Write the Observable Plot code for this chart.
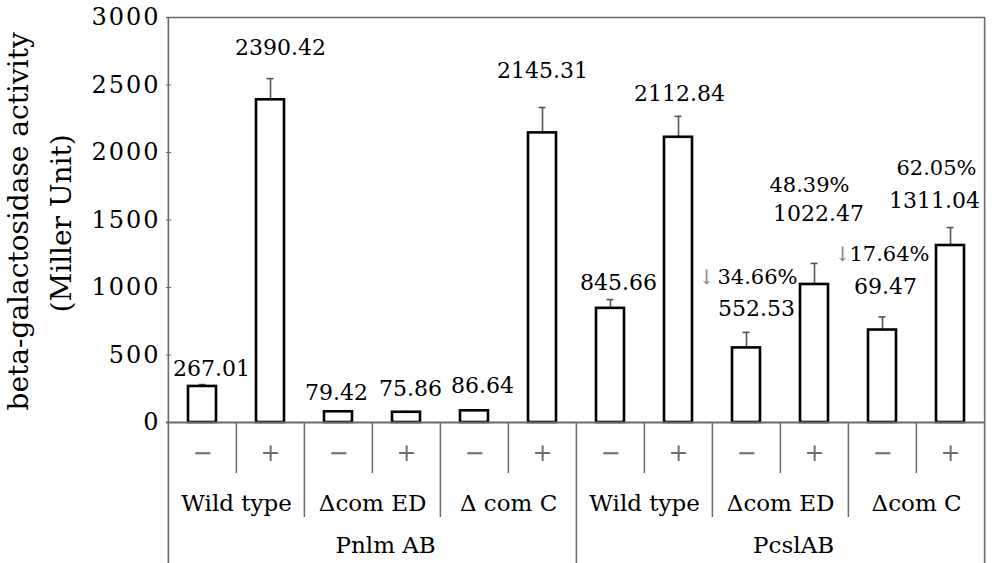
<!DOCTYPE html>
<html><head><meta charset="utf-8">
<script src="https://cdn.jsdelivr.net/npm/d3@7"></script>
<script src="https://cdn.jsdelivr.net/npm/@observablehq/plot@0.6"></script>
<style>
body{margin:0;background:#fff}
#chart svg{display:block}
#chart g[aria-label="y-axis tick label"] text{letter-spacing:2px}
</style></head><body><div id="chart"></div>
<script>
// ---- data ----
const promoters = ["Pnlm AB", "PcslAB"];
const strains = ["Wild type", "\u0394com ED", "\u0394 com C", "Wild type", "\u0394com ED", "\u0394com C"];
const treatments = ["\u2212", "+"];
const values = [267.01, 2390.42, 79.42, 75.86, 86.64, 2145.31, 845.66, 2112.84, 552.53, 1022.47, 685, 1311.04];
const errors = [14, 157, 6, 5, 2, 188, 65, 155, 115, 156, 97, 133];
const valueLabels = ["267.01", "2390.42", "79.42", "75.86", "86.64", "2145.31", "845.66", "2112.84", "552.53", "1022.47", "69.47", "1311.04"];
const percentLabels = [null, null, null, null, null, null, null, null, "34.66%", "48.39%", "17.64%", "62.05%"];
const percentDown = [false, false, false, false, false, false, false, false, true, false, true, false];
const yTicks = [0, 500, 1000, 1500, 2000, 2500, 3000];

// ---- annotation placement (label centres in y units, horizontal nudges in px) ----
const valueLabelAt = [400, 2778, 222, 252, 274, 2607, 1030, 2437, 844, 1548, 1007, 1644];
const valueLabelNudge = [9, 10, -2, 4, 8, 0, 8, 1, 10, 4, 3, -16];
const percentLabelAt = [null, null, null, null, null, null, null, null, 1074, 1756, 1244, 1881];
const percentLabelNudge = [0, 0, 0, 0, 0, 0, 0, 0, 11, -5, 7, -14];

// ---- layout ----
const W = 1000, H = 563, ML = 166, MR = 15, MT = 17;
const zeroPx = 422;
const pxPerUnit = (zeroPx - MT) / 3000;
const Y = px => (zeroPx - px) / pxPerUnit; // pixel row -> y units (for the table under the axis)
const yMin = Y(H);
const step = (W - ML - MR) / 12;
const font = "DejaVu Serif";

const ids = d3.range(12).map(String);
const data = ids.map((id, i) => ({
  id, i,
  value: values[i], err: errors[i], top: values[i] + errors[i],
  treat: treatments[i % 2],
  label: valueLabels[i], labelY: valueLabelAt[i], labelDx: valueLabelNudge[i],
  pct: percentLabels[i], pctY: percentLabelAt[i], pctDx: percentLabelNudge[i], down: percentDown[i]
}));
const strainData = strains.map((s, k) => ({id: String(k * 2), s}));
const promoterData = promoters.map((p, k) => ({id: String(k * 6 + 2), p}));

// table vertical lines
const lineGray = "#6a6a6a";
const minorLines = data.filter(d => d.i % 2 === 1);
const majorLines = data.filter(d => d.i % 2 === 0 && d.i !== 0 && d.i !== 6);
const pctData = data.filter(d => d.pct);
const arrowData = data.filter(d => d.down);

const chart = Plot.plot({
  width: W, height: H,
  marginLeft: ML, marginRight: MR, marginTop: MT, marginBottom: 0,
  style: {fontFamily: font, background: "white", color: "black"},
  x: {type: "band", domain: ids, paddingInner: 0.59, paddingOuter: 0.295, axis: null},
  y: {domain: [yMin, 3000], axis: null},
  marks: [
    // frame / table lines
    Plot.ruleY([3000], {stroke: lineGray, strokeWidth: 1.6}),
    Plot.ruleX(minorLines, {x: "id", dx: -step / 2, y1: 0, y2: Y(473), stroke: lineGray, strokeWidth: 1.5}),
    Plot.ruleX(majorLines, {x: "id", dx: -step / 2, y1: 0, y2: Y(517), stroke: lineGray, strokeWidth: 1.5}),
    Plot.ruleX([data[6]], {x: "id", dx: -step / 2, y1: 0, y2: yMin, stroke: lineGray, strokeWidth: 1.5}),
    Plot.ruleX([data[0]], {x: "id", dx: -step / 2, y1: 3000, y2: yMin, stroke: lineGray, strokeWidth: 1.6}),
    Plot.ruleX([data[11]], {x: "id", dx: step / 2, y1: 3000, y2: yMin, stroke: lineGray, strokeWidth: 1.6}),
    // y axis
    Plot.axisY({ticks: yTicks, tickSize: -5, tickPadding: 11, fontSize: 24, tickFormat: d => String(d), stroke: lineGray, label: null, fill: "black"}),
    // error bars
    Plot.ruleX(data, {x: "id", y1: "value", y2: "top", stroke: "#555", strokeWidth: 1.6}),
    Plot.tickY(data, {x: "id", y: "top", stroke: "#555", strokeWidth: 1.6, inset: 10.5}),
    // bars
    Plot.barY(data, {x: "id", y: "value", fill: "white", stroke: "black", strokeWidth: 2.6}),
    Plot.ruleY([0], {stroke: lineGray, strokeWidth: 1.8}),
    // value labels
    ...data.map(d => Plot.text([d], {x: "id", y: "labelY", dx: d.labelDx, text: "label", fontSize: 22, lineAnchor: "middle", fill: "black"})),
    ...pctData.map(d => Plot.text([d], {x: "id", y: "pctY", text: "pct", dx: d.pctDx, fontSize: 21, lineAnchor: "middle", fill: "black"})),
    Plot.text(arrowData, {x: "id", y: "pctY", text: () => "\u2193", dx: -40, fontSize: 20, lineAnchor: "middle", fill: "#888"}),
    // table text
    Plot.text(data, {x: "id", y: Y(453), text: "treat", fontSize: 24, lineAnchor: "middle", fill: "#6e6e6e"}),
    Plot.text(strainData, {x: "id", dx: step / 2, y: Y(503), text: "s", fontSize: 23, lineAnchor: "middle", fill: "black"}),
    Plot.text(promoterData, {x: "id", dx: step / 2 + 13, y: Y(545), text: "p", fontSize: 23, lineAnchor: "middle", fill: "black"}),
    // y-axis title
    Plot.text([{t: "beta-galactosidase activity", y: 1490}], {text: "t", y: "y", frameAnchor: "left", textAnchor: "middle", dx: 19 - ML, rotate: -90, fontSize: 28, lineAnchor: "middle", fill: "black"}),
    Plot.text([{t: "(Miller Unit)", y: 1475}], {text: "t", y: "y", frameAnchor: "left", textAnchor: "middle", dx: 62 - ML, rotate: -90, fontSize: 28, lineAnchor: "middle", fill: "black"})
  ]
});
document.getElementById("chart").appendChild(chart);
</script>
</body></html>
